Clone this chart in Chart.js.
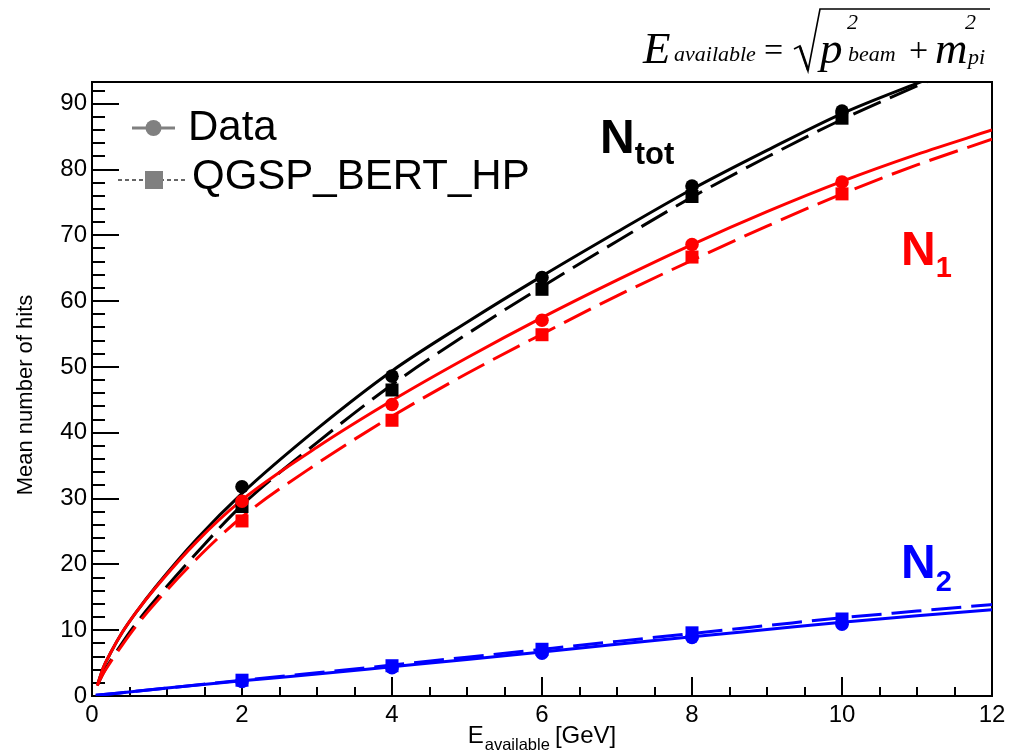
<!DOCTYPE html>
<html>
<head>
<meta charset="utf-8">
<script src="https://cdn.jsdelivr.net/npm/chart.js@4.4.1/dist/chart.umd.min.js"></script>
<style>
  html, body { margin: 0; padding: 0; background: #fff; }
  canvas { display: block; }
</style>
</head>
<body>
<canvas id="c" width="1013" height="753"></canvas>
<script>
// Beam energies where the hit counts were measured
const energies = [2, 4, 6, 8, 10];

// Mean number of hits: measured (Data) and simulated (QGSP_BERT_HP)
const ntotData = [31.8, 48.6, 63.6, 77.5, 88.9];
const ntotMC   = [28.8, 46.5, 61.8, 75.9, 87.8];
const n1Data   = [29.6, 44.3, 57.1, 68.6, 78.1];
const n1MC     = [26.6, 41.9, 54.9, 66.7, 76.3];
const n2Data   = [2.2, 4.3, 6.5, 8.9, 10.9];
const n2MC     = [2.4, 4.6, 7.1, 9.6, 11.7];

// Fitted response curves
const fitE        = [0.07, 0.15, 0.25, 0.4, 0.6, 0.85, 1.4, 2, 3, 4, 5, 6, 7, 8, 9, 10, 11, 12];
const ntotDataFit = [1.6, 4.3, 6.6, 9.6, 12.9, 16.6, 23.9, 30.8, 40.6, 49.4, 56.8, 63.8, 70.5, 77.0, 82.9, 88.5, 93.1, 97.5];
const ntotMCFit   = [1.6, 3.5, 5.4, 8.0, 11.2, 14.7, 21.8, 29.0, 38.5, 47.3, 55.0, 62.2, 69.1, 75.8, 81.9, 87.6, 92.7, 97.5];
const n1DataFit   = [1.6, 4.3, 6.6, 9.6, 12.9, 16.5, 23.5, 29.8, 37.8, 44.9, 51.4, 57.5, 63.2, 68.6, 73.6, 78.2, 82.3, 86.0];
const n1MCFit     = [1.6, 3.4, 5.2, 7.7, 10.8, 14.2, 20.9, 27.2, 35.3, 42.5, 49.0, 55.0, 60.8, 66.2, 71.4, 76.3, 80.7, 84.6];
const n2FitE      = [0.05, 1, 2, 3, 4, 5, 6, 7, 8, 9, 10, 11, 12];
const n2DataFit   = [0.1, 1.2, 2.3, 3.35, 4.45, 5.55, 6.7, 7.85, 9.0, 10.1, 11.2, 12.2, 13.1];
const n2MCFit     = [0.1, 1.2, 2.4, 3.55, 4.7, 5.9, 7.1, 8.3, 9.5, 10.7, 11.9, 12.9, 13.9];

// Axis ranges and tick spacing
const xRange = [0, 12];
const yRange = [0, 93.3];
const xMajorStep = 2, xMinorStep = 0.5;
const yMajorStep = 10, yMinorStep = 2;

const SANS = '"Liberation Sans", Arial, Helvetica, sans-serif';
const SERIF = '"Liberation Serif", "Times New Roman", serif';
const BLACK = '#000000', RED = '#ff0000', BLUE = '#0000ff', GREY = '#808080';
const DASH = [30, 10];

const pts = (xs, ys) => xs.map((x, i) => ({ x, y: ys[i] }));

function curve(xs, ys, color, dashed, order) {
  return {
    data: pts(xs, ys), showLine: true, borderColor: color, borderWidth: 3,
    borderDash: dashed ? DASH : [], pointRadius: 0, cubicInterpolationMode: 'monotone',
    order
  };
}
function markers(ys, color, style, order) {
  return {
    data: pts(energies, ys), showLine: false, pointStyle: style,
    pointRadius: style === 'rect' ? 9.2 : 6.8, pointBackgroundColor: color,
    pointBorderColor: color, pointBorderWidth: 0, order
  };
}

// Inner tick marks and frame, ROOT style
const framePlugin = {
  id: 'frame',
  beforeDatasetsDraw(chart) {
    const { ctx, chartArea: a, scales: { x, y } } = chart;
    ctx.save();
    ctx.strokeStyle = '#000';
    ctx.lineWidth = 2;
    ctx.strokeRect(a.left, a.top, a.right - a.left, a.bottom - a.top);
    ctx.beginPath();
    for (let v = yRange[0]; v <= yRange[1] + 1e-9; v += yMinorStep) {
      const py = Math.round(y.getPixelForValue(v));
      const len = Math.abs(v % yMajorStep) < 1e-9 ? 27 : 13;
      ctx.moveTo(a.left, py); ctx.lineTo(a.left + len, py);
    }
    for (let v = xRange[0]; v <= xRange[1] + 1e-9; v += xMinorStep) {
      const px = Math.round(x.getPixelForValue(v));
      const len = Math.abs(v % xMajorStep) < 1e-9 ? 19 : 9;
      ctx.moveTo(px, a.bottom); ctx.lineTo(px, a.bottom - len);
    }
    ctx.stroke();
    ctx.restore();
  }
};

// Titles, legend, curve labels and the energy formula
const textPlugin = {
  id: 'texts',
  afterDraw(chart) {
    const { ctx, chartArea: a } = chart;
    ctx.save();
    ctx.fillStyle = '#000';
    ctx.textBaseline = 'alphabetic';

    // y-axis title
    ctx.save();
    ctx.translate(32, 395);
    ctx.rotate(-Math.PI / 2);
    ctx.font = '22px ' + SANS;
    ctx.textAlign = 'center';
    ctx.fillText('Mean number of hits', 0, 0);
    ctx.restore();

    // x-axis title: E_available [GeV]
    ctx.textAlign = 'left';
    const fMain = '24px ' + SANS, fSub = '16.5px ' + SANS;
    ctx.font = fMain; const wE = ctx.measureText('E').width; const wG = ctx.measureText('[GeV]').width;
    ctx.font = fSub; const wS = ctx.measureText('available').width;
    const gap = 6;
    let sx = (a.left + a.right) / 2 - (wE + wS + gap + wG) / 2;
    ctx.font = fMain; ctx.fillText('E', sx, 743);
    ctx.font = fSub; ctx.fillText('available', sx + wE + 1, 750);
    ctx.font = fMain; ctx.fillText('[GeV]', sx + wE + wS + gap, 743);

    // Legend
    ctx.strokeStyle = GREY; ctx.fillStyle = GREY; ctx.lineWidth = 3;
    ctx.beginPath(); ctx.moveTo(132, 128); ctx.lineTo(175, 128); ctx.stroke();
    ctx.beginPath(); ctx.arc(153.5, 128, 8, 0, Math.PI * 2); ctx.fill();
    ctx.strokeStyle = '#333'; ctx.lineWidth = 1.5; ctx.setLineDash([4, 3]);
    ctx.beginPath(); ctx.moveTo(118, 180); ctx.lineTo(188, 180); ctx.stroke();
    ctx.setLineDash([]);
    ctx.fillStyle = GREY; ctx.fillRect(145, 171, 18, 18);
    ctx.fillStyle = '#000'; ctx.font = '42px ' + SANS;
    ctx.fillText('Data', 188, 140);
    ctx.fillText('QGSP_BERT_HP', 192, 189);

    // Curve labels
    const label = (main, sub, color, x, y, subSize, subDy) => {
      ctx.fillStyle = color;
      ctx.font = 'bold 48px ' + SANS;
      ctx.fillText(main, x, y);
      const w = ctx.measureText(main).width;
      ctx.font = 'bold ' + subSize + 'px ' + SANS;
      ctx.fillText(sub, x + w, y + subDy);
    };
    label('N', 'tot', BLACK, 600, 153, 31, 11);
    label('N', '1', RED, 901, 265, 29, 12);
    label('N', '2', BLUE, 901, 578, 29, 13);

    // E_available = sqrt(p_beam^2 + m_pi^2)
    ctx.fillStyle = '#000';
    const big = 'italic 45px ' + SERIF, small = 'italic 22px ' + SERIF, op = '34px ' + SERIF;
    ctx.font = big; ctx.fillText('E', 643, 63);
    ctx.font = small; ctx.fillText('available', 674, 61);
    ctx.font = op; ctx.fillText('=', 764, 61);
    ctx.strokeStyle = '#000'; ctx.lineWidth = 1.6;
    ctx.beginPath();
    ctx.moveTo(794, 49); ctx.lineTo(800, 46); ctx.lineTo(808, 71); ctx.lineTo(820, 9); ctx.lineTo(990, 9);
    ctx.stroke();
    ctx.lineWidth = 2.6;
    ctx.beginPath(); ctx.moveTo(800, 47); ctx.lineTo(808, 70); ctx.stroke();
    ctx.font = big; ctx.fillText('p', 820, 63);
    ctx.font = small; ctx.fillText('2', 847, 29); ctx.fillText('beam', 848, 61);
    ctx.font = op; ctx.fillText('+', 909, 61);
    ctx.font = big; ctx.fillText('m', 935, 63);
    ctx.font = small; ctx.fillText('2', 965, 29); ctx.fillText('pi', 968, 64);

    ctx.restore();
  }
};

const tickFont = { family: SANS, size: 24 };

new Chart(document.getElementById('c'), {
  type: 'scatter',
  data: {
    datasets: [
      curve(fitE, ntotDataFit, BLACK, false, 20),
      curve(fitE, ntotMCFit, BLACK, true, 21),
      curve(fitE, n1DataFit, RED, false, 18),
      curve(fitE, n1MCFit, RED, true, 19),
      curve(n2FitE, n2DataFit, BLUE, false, 16),
      curve(n2FitE, n2MCFit, BLUE, true, 17),
      markers(ntotMC, BLACK, 'rect', 6),
      markers(ntotData, BLACK, 'circle', 5),
      markers(n1MC, RED, 'rect', 4),
      markers(n1Data, RED, 'circle', 3),
      markers(n2Data, BLUE, 'circle', 2),
      markers(n2MC, BLUE, 'rect', 1)
    ]
  },
  options: {
    responsive: false,
    animation: false,
    events: [],
    layout: { padding: { left: 0, top: 82, right: 21, bottom: 0 } },
    scales: {
      x: {
        type: 'linear', min: xRange[0], max: xRange[1],
        afterFit: s => { s.height = 57; },
        ticks: { stepSize: xMajorStep, font: tickFont, color: '#000', padding: 5,
                 maxRotation: 0, autoSkip: false, includeBounds: false },
        grid: { display: false, drawTicks: false },
        border: { display: false }
      },
      y: {
        type: 'linear', min: yRange[0], max: yRange[1],
        afterFit: s => { s.width = 92; },
        ticks: { stepSize: yMajorStep, font: tickFont, color: '#000', padding: 5,
                 autoSkip: false, includeBounds: false },
        grid: { display: false, drawTicks: false },
        border: { display: false }
      }
    },
    plugins: { legend: { display: false }, tooltip: { enabled: false } }
  },
  plugins: [framePlugin, textPlugin]
});
</script>
</body>
</html>
